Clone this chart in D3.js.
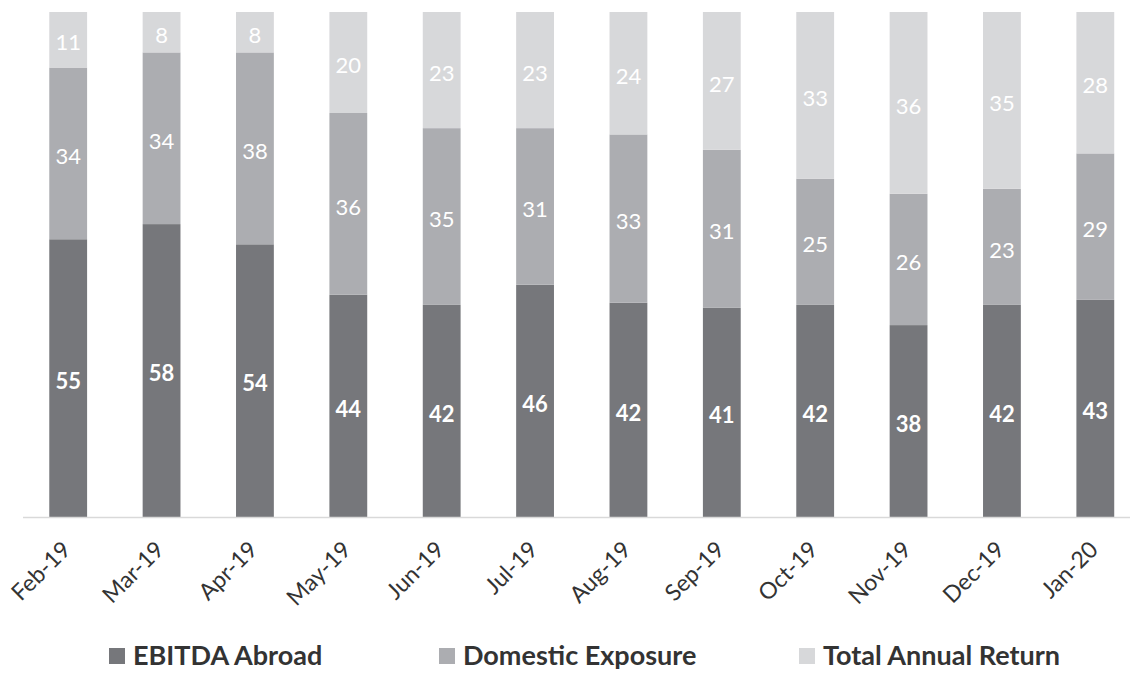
<!DOCTYPE html>
<html>
<head>
<meta charset="utf-8">
<script src="https://cdn.jsdelivr.net/npm/d3@7"></script>
<style>
  body { margin: 0; background: #fff; }
  text { font-family: Lato, "Open Sans", sans-serif; }
</style>
</head>
<body>
<div id="chart"></div>
<script>
// data
const months = ['Feb-19', 'Mar-19', 'Apr-19', 'May-19', 'Jun-19', 'Jul-19',
    'Aug-19', 'Sep-19', 'Oct-19', 'Nov-19', 'Dec-19', 'Jan-20'];
const ebitdaAbroad = [55, 58, 54, 44, 42, 46, 42, 41, 42, 38, 42, 43];
const domesticExposure = [34, 34, 38, 36, 35, 31, 33, 31, 25, 26, 23, 29];
const totalAnnualReturn = [11, 8, 8, 20, 23, 23, 24, 27, 33, 36, 35, 28];
const seriesNames = ['EBITDA Abroad', 'Domestic Exposure', 'Total Annual Return'];

const width = 1130;
const height = 674;
const baseY = 517;
const topY = 12;

const colors = ['#76777b', '#acadb1', '#d7d8da'];

const rows = months.map((m, i) => ({
    month: m,
    'EBITDA Abroad': ebitdaAbroad[i],
    'Domestic Exposure': domesticExposure[i],
    'Total Annual Return': totalAnnualReturn[i]
}));

const stacked = d3.stack()
    .keys(seriesNames)
    .offset(d3.stackOffsetExpand)(rows);

const svg = d3.select('#chart').append('svg')
    .attr('width', width)
    .attr('height', height);

const xScale = d3.scaleBand()
    .domain(months)
    .range([21.5, 1142])
    .paddingInner(0.595)
    .paddingOuter(0.2975);

const yScale = d3.scaleLinear()
    .domain([0, 1])
    .range([baseY, topY]);

const layers = svg.selectAll('g.layer')
    .data(stacked)
    .enter()
    .append('g')
    .attr('class', 'layer')
    .attr('fill', (d, i) => colors[i]);

layers.selectAll('rect')
    .data(d => d)
    .enter()
    .append('rect')
    .attr('x', d => xScale(d.data.month))
    .attr('y', d => yScale(d[1]))
    .attr('width', xScale.bandwidth())
    .attr('height', d => yScale(d[0]) - yScale(d[1]));

// value labels
stacked.forEach((layer, li) => {
    svg.append('g').selectAll('text')
        .data(layer)
        .enter()
        .append('text')
        .attr('x', d => xScale(d.data.month) + xScale.bandwidth() / 2)
        .attr('y', d => (yScale(d[0]) + yScale(d[1])) / 2 + 3)
        .attr('dy', '0.35em')
        .attr('text-anchor', 'middle')
        .attr('fill', '#fff')
        .style('font-size', '22px')
        .style('font-weight', li === 0 ? 'bold' : 'normal')
        .text(d => d.data[layer.key]);
});

// x axis
const xAxis = d3.axisBottom(xScale).tickSize(0).tickPadding(0);
const xAxis_g = svg.append('g')
    .attr('transform', `translate(0, ${baseY})`)
    .call(xAxis);

xAxis_g.select('.domain')
    .attr('d', `M23,0.5H${width}`)
    .attr('stroke', '#d9d9d9')
    .attr('stroke-width', 1.5);

xAxis_g.selectAll('text')
    .attr('fill', '#333')
    .style('font-size', '23px')
    .attr('text-anchor', 'end')
    .attr('dy', 0)
    .attr('y', 0)
    .attr('transform', 'translate(4, 34) rotate(-45)');

// legend
const legendX = [109, 439, 799];
const legend = svg.append('g')
    .selectAll('g')
    .data(seriesNames)
    .enter()
    .append('g')
    .attr('transform', (d, i) => `translate(${legendX[i]}, 648)`);

legend.append('rect')
    .attr('width', 16)
    .attr('height', 16)
    .attr('fill', (d, i) => colors[i]);

legend.append('text')
    .attr('x', 24)
    .attr('y', 17)
    .attr('fill', '#333')
    .style('font-size', '27px')
    .style('font-weight', 'bold')
    .text(d => d);
</script>
</body>
</html>
